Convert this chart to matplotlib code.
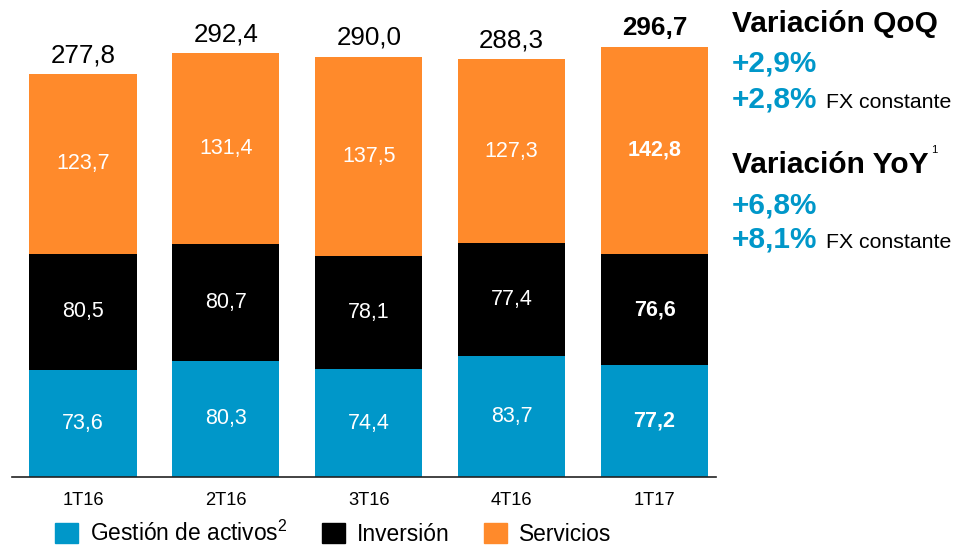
import matplotlib
matplotlib.use("Agg")
import matplotlib.pyplot as plt
from matplotlib.patches import Patch

plt.rcParams['font.family'] = ['Liberation Sans', 'DejaVu Sans']
plt.rcParams['mathtext.fontset'] = 'custom'
plt.rcParams['mathtext.rm'] = 'Liberation Sans'
plt.rcParams['mathtext.it'] = 'Liberation Sans'
plt.rcParams['mathtext.bf'] = 'Liberation Sans:bold'

categories = ["1T16", "2T16", "3T16", "4T16", "1T17"]
gestion = [73.6, 80.3, 74.4, 83.7, 77.2]
inversion = [80.5, 80.7, 78.1, 77.4, 76.6]
servicios = [123.7, 131.4, 137.5, 127.3, 142.8]
totals = [277.8, 292.4, 290.0, 288.3, 296.7]
series_names = ["Gestión de activos$^{\\mathrm{2}}$", "Inversión", "Servicios"]

BLUE = "#0097C9"
BLACK = "#000000"
ORANGE = "#FF8A2B"

def fmt(v):
    return f"{v:.1f}".replace(".", ",")

W, H = 959, 545
fig = plt.figure(figsize=(W / 100, H / 100), dpi=100)
ax = fig.add_axes([12 / W, 68 / H, 704 / W, 477 / H])

x = list(range(len(categories)))
bottoms2 = gestion
bottoms3 = [a + b for a, b in zip(gestion, inversion)]
b1 = ax.bar(x, gestion, width=0.75, color=BLUE, linewidth=0)
b2 = ax.bar(x, inversion, width=0.75, bottom=bottoms2, color=BLACK, linewidth=0)
b3 = ax.bar(x, servicios, width=0.75, bottom=bottoms3, color=ORANGE, linewidth=0)

last = len(categories) - 1
for bars, vals, bots in [(b1, gestion, [0] * 5), (b2, inversion, bottoms2), (b3, servicios, bottoms3)]:
    for i, (v, b) in enumerate(zip(vals, bots)):
        ax.text(i, b + v / 2, fmt(v), ha="center", va="center", color="white",
                fontsize=15.5, fontweight="bold" if i == last else "normal")

for i, t in enumerate(totals):
    ax.annotate(fmt(t), (i, t), xytext=(0, 5), textcoords="offset points",
                ha="center", va="bottom", fontsize=18.7, color="black",
                fontweight="bold" if i == last else "normal")

ax.set_xlim(-0.497, 4.43)
ax.set_ylim(0, 329)
ax.set_xticks(x)
ax.set_xticklabels(categories, fontsize=13.2)
ax.tick_params(axis="x", length=0, pad=11)
ax.set_yticks([])
for s in ["top", "right", "left"]:
    ax.spines[s].set_visible(False)
ax.spines["bottom"].set_linewidth(1.2)
ax.spines["bottom"].set_color("#222222")

handles = [Patch(color=BLUE), Patch(color=BLACK), Patch(color=ORANGE)]
fig.legend(handles, series_names, loc="lower left", bbox_to_anchor=(55 / W, -1 / H),
           ncol=3, frameon=False, fontsize=16.4, handlelength=1.0, handleheight=1.0,
           handletextpad=0.55, columnspacing=1.5, borderpad=0, borderaxespad=0)

def ftext(px, py, s, **kw):
    fig.text(px / W, 1 - py / H, s, va="baseline", ha="left", **kw)

ftext(732, 32, "Variación QoQ", fontsize=21.5, fontweight="bold", color="black")
ftext(732, 72, "+2,9%", fontsize=21.4, fontweight="bold", color=BLUE)
ftext(732, 108, "+2,8%", fontsize=21.4, fontweight="bold", color=BLUE)
ftext(826, 108, "FX constante", fontsize=15.3, color="black")
ftext(732, 173, "Variación YoY", fontsize=21.5, fontweight="bold", color="black")
ftext(931, 153, "1", fontsize=8, color="black")
ftext(732, 213, "+6,8%", fontsize=21.4, fontweight="bold", color=BLUE)
ftext(732, 248, "+8,1%", fontsize=21.4, fontweight="bold", color=BLUE)
ftext(826, 248, "FX constante", fontsize=15.3, color="black")

fig.savefig("out.png", dpi=100)
